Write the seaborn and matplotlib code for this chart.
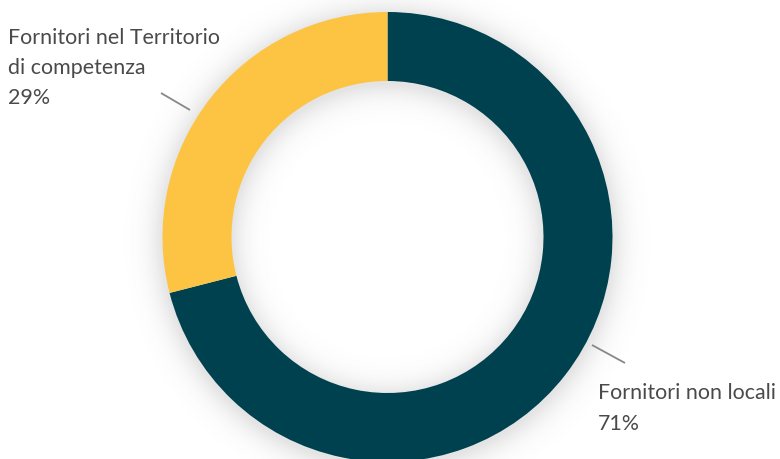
import numpy as np
import matplotlib
matplotlib.use("Agg")
import matplotlib.pyplot as plt
import seaborn as sns

categories = ["Fornitori non locali", "Fornitori nel Territorio\ndi competenza"]
shares = [71, 29]
colors = ["#00414F", "#FDC443"]

sns.set_theme(style="white")
plt.rcParams["font.family"] = ["Lato", "DejaVu Sans"]

W, H = 780, 459
fig = plt.figure(figsize=(W / 100, H / 100), dpi=100)
ax = fig.add_axes([0, 0, 1, 1])

cx, cy = 387.5, H - 237
r_out, r_in = 225, 156

# soft drop shadow around the ring
yy, xx = np.mgrid[0:H, 0:W]
px = xx + 0.5
py = H - (yy + 0.5)
d = np.hypot(px - cx, py - (cy - 3))
dist = np.where(d > r_out, d - r_out, np.where(d < r_in, r_in - d, 0.0))
alpha = 0.16 * np.exp(-(dist / 14.0) ** 1.3)
rgba = np.zeros((H, W, 4))
rgba[..., :3] = 0.35
rgba[..., 3] = alpha
ax.imshow(rgba, extent=(0, W, 0, H), origin="upper", zorder=0, interpolation="bilinear")

ax.pie(shares, colors=colors, startangle=90, counterclock=False,
       center=(cx, cy), radius=r_out, frame=True,
       wedgeprops=dict(width=r_out - r_in, linewidth=0, antialiased=True))

# leader lines
ax.plot([161, 190], [H - 93, H - 110], color="#888888", lw=1.3, solid_capstyle="butt", zorder=3)
ax.plot([592, 625], [H - 345, H - 363], color="#888888", lw=1.3, solid_capstyle="butt", zorder=3)

txt_color = "#4a4a4a"
fs = 15.4
ax.text(8, H - 38, categories[1].split("\n")[0], fontsize=fs, color=txt_color, va="center", ha="left")
ax.text(8, H - 68, categories[1].split("\n")[1], fontsize=fs, color=txt_color, va="center", ha="left")
ax.text(8, H - 98, f"{shares[1]}%", fontsize=fs, color=txt_color, va="center", ha="left")
ax.text(598, H - 393, categories[0], fontsize=fs, color=txt_color, va="center", ha="left")
ax.text(598, H - 424, f"{shares[0]}%", fontsize=fs, color=txt_color, va="center", ha="left")

ax.set_xlim(0, W)
ax.set_ylim(0, H)
ax.set_aspect("auto")
ax.axis("off")
fig.savefig("out.png", dpi=100, facecolor="white")
